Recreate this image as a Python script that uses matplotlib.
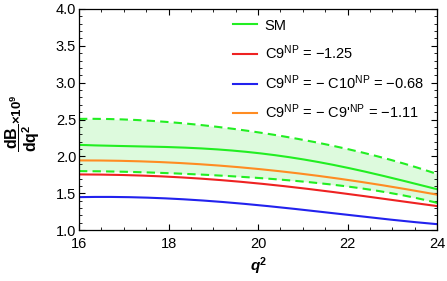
import matplotlib
matplotlib.use("Agg")
import matplotlib.pyplot as plt
from matplotlib.ticker import MultipleLocator, FormatStrFormatter
import numpy as np

plt.rcParams['font.family'] = ['Liberation Sans', 'DejaVu Sans']
plt.rcParams['mathtext.fontset'] = 'custom'
plt.rcParams['mathtext.rm'] = 'Liberation Sans'
plt.rcParams['mathtext.it'] = 'Liberation Sans:italic'
plt.rcParams['mathtext.bf'] = 'Liberation Sans:bold'
plt.rcParams['mathtext.bfit'] = 'Liberation Sans:bold:italic'

# Data
q2 = [16, 17, 18, 19, 20, 21, 22, 23, 24]
sm = [2.154, 2.15, 2.12, 2.095, 2.05, 1.96, 1.85, 1.70, 1.557]
sm_upper = [2.51, 2.50, 2.465, 2.41, 2.33, 2.22, 2.10, 1.95, 1.76]
sm_lower = [1.80, 1.795, 1.77, 1.745, 1.71, 1.66, 1.59, 1.50, 1.37]
c9 = [1.756, 1.747, 1.724, 1.69, 1.63, 1.57, 1.49, 1.41, 1.326]
c9_c10 = [1.448, 1.448, 1.43, 1.39, 1.34, 1.28, 1.20, 1.145, 1.08]
c9_c9p = [1.946, 1.94, 1.914, 1.887, 1.83, 1.76, 1.68, 1.59, 1.48]

labels = ['SM',
          r'C9$^{\mathrm{NP}}$ = $-$1.25',
          r'C9$^{\mathrm{NP}}$ = $-$ C10$^{\mathrm{NP}}$ = $-$0.68',
          r"C9$^{\mathrm{NP}}$ = $-$ C9$'^{\mathrm{NP}}$ = $-$1.11"]

green = '#22EE22'
red = '#EE2222'
blue = '#2222EE'
orange = '#FF8C22'

xs = np.linspace(16, 24, 200)
def smooth(y):
    c = np.polyfit(q2, y, 4)
    return np.polyval(c, xs)

fig = plt.figure(figsize=(4.47, 2.81), dpi=100)
ax = fig.add_axes([0.1767, 0.181, 0.8013, 0.787])

ax.fill_between(xs, smooth(sm_lower), smooth(sm_upper), color='#DDFADD', lw=0)
ax.plot(xs, smooth(sm_upper), color=green, lw=1.5, ls=(0, (4, 2.5)))
ax.plot(xs, smooth(sm_lower), color=green, lw=1.5, ls=(0, (4, 2.5)))
l1, = ax.plot(xs, smooth(sm), color=green, lw=1.5)
l2, = ax.plot(xs, smooth(c9), color=red, lw=1.5)
l3, = ax.plot(xs, smooth(c9_c10), color=blue, lw=1.5)
l4, = ax.plot(xs, smooth(c9_c9p), color=orange, lw=1.5)

ax.set_xlim(16, 24)
ax.set_ylim(1.0, 4.0)
ax.xaxis.set_major_locator(MultipleLocator(2))
ax.xaxis.set_minor_locator(MultipleLocator(0.5))
ax.yaxis.set_major_locator(MultipleLocator(0.5))
ax.yaxis.set_minor_locator(MultipleLocator(0.1))
ax.tick_params(which='both', direction='in', top=True, right=True, labelsize=10.5)
ax.tick_params(which='major', length=4, width=0.8)
ax.tick_params(axis='x', which='major', pad=5)
ax.tick_params(axis='y', which='major', pad=2)
ax.tick_params(which='minor', length=2, width=0.6)
ax.yaxis.set_major_formatter(FormatStrFormatter('%.1f'))
for s in ax.spines.values():
    s.set_linewidth(0.9)

ax.set_xlabel(r'$\mathbfit{q}^{\mathbf{2}}$', fontsize=11, labelpad=3)
fig.text(0.051, 0.508, r'$\mathbf{\dfrac{dB}{dq^2}}$',
         rotation=90, ha='center', va='center', fontsize=11.5)
fig.text(0.040, 0.612, r'$\mathbf{\times 10^9}$',
         rotation=90, ha='center', va='center', fontsize=9.5)

leg = ax.legend([l1, l2, l3, l4], labels, loc='upper right',
                bbox_to_anchor=(0.992, 1.003), frameon=False, fontsize=10.5,
                handlelength=1.65, handletextpad=0.55, labelspacing=0.75,
                borderaxespad=0.3)

fig.savefig('out.png', dpi=100)
